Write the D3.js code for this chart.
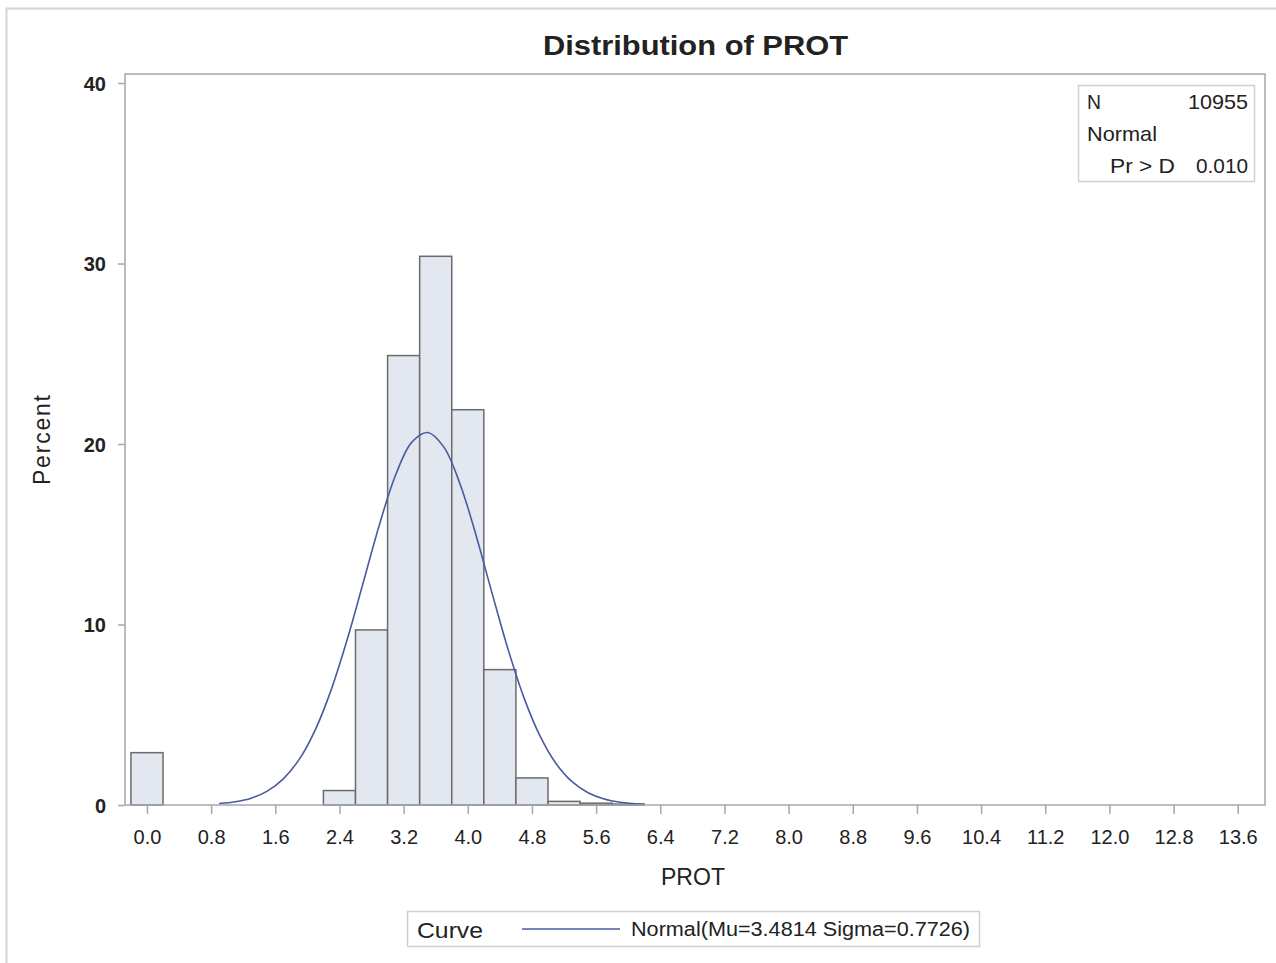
<!DOCTYPE html>
<html>
<head>
<meta charset="utf-8">
<script src="https://cdn.jsdelivr.net/npm/d3@7"></script>
<style>
  body { margin: 0; background: #fff; }
  svg { display: block; font-family: "Liberation Sans", Arial, sans-serif; }
</style>
</head>
<body>
<svg id="chart" width="1276" height="963"></svg>
<script>
// ---- data ----
const binMids = [0.0, 2.4, 2.8, 3.2, 3.6, 4.0, 4.4, 4.8, 5.2, 5.6, 6.0];
const binPercents = [2.9, 0.8, 9.7, 24.9, 30.4, 21.9, 7.5, 1.5, 0.2, 0.1, 0.05];
const binWidth = 0.4;
const curveX = [0.9, 1.1, 1.3, 1.5, 1.7, 1.9, 2.1, 2.3, 2.5, 2.7, 2.9, 3.1, 3.3, 3.5, 3.7, 3.9, 4.1, 4.3, 4.5, 4.7, 4.9, 5.1, 5.3, 5.5, 5.7, 5.9, 6.1, 6.2];
const curveY = [0.08, 0.18, 0.38, 0.77, 1.45, 2.54, 4.18, 6.42, 9.22, 12.38, 15.56, 18.28, 20.09, 20.64, 19.84, 17.83, 14.99, 11.78, 8.66, 5.95, 3.83, 2.30, 1.29, 0.68, 0.33, 0.15, 0.07, 0.04];
const xTicks = [0.0, 0.8, 1.6, 2.4, 3.2, 4.0, 4.8, 5.6, 6.4, 7.2, 8.0, 8.8, 9.6, 10.4, 11.2, 12.0, 12.8, 13.6];
const yTicks = [0, 10, 20, 30, 40];
const titleText = "Distribution of PROT";
const xLabel = "PROT";
const yLabel = "Percent";
const insetRows = [["N", "10955"], ["Normal", ""], ["Pr > D", "0.010"]];
const legendTitle = "Curve";
const legendLabel = "Normal(Mu=3.4814 Sigma=0.7726)";

// ---- layout ----
const svg = d3.select("#chart");
const L = 125, R = 1265, T = 74, B = 805;
const x = d3.scaleLinear().domain([-0.274, 13.94]).range([L, R]);
const y = d3.scaleLinear().domain([0, 40.5]).range([B, T]);
const textCol = "#222";
const frameCol = "#a4a8ac";

// outer frame (top + left edges visible)
svg.append("line").attr("x1", 6).attr("x2", 1276).attr("y1", 8.5).attr("y2", 8.5).attr("stroke", "#d4d4d4").attr("stroke-width", 2);
svg.append("line").attr("x1", 6.5).attr("x2", 6.5).attr("y1", 8).attr("y2", 963).attr("stroke", "#d4d4d4").attr("stroke-width", 2);

// title
svg.append("text").attr("x", 543).attr("y", 55)
  .attr("font-size", 27).attr("font-weight", "bold").attr("fill", textCol)
  .attr("textLength", 305).attr("lengthAdjust", "spacingAndGlyphs").text(titleText);

// bars
svg.append("g").selectAll("rect").data(binMids).join("rect")
  .attr("x", d => x(d - binWidth / 2))
  .attr("width", d => x(d + binWidth / 2) - x(d - binWidth / 2))
  .attr("y", (d, i) => y(binPercents[i]))
  .attr("height", (d, i) => y(0) - y(binPercents[i]))
  .attr("fill", "#e2e7f0").attr("stroke", "#6b6b6b").attr("stroke-width", 1.5);

// curve
const pts = curveX.map((v, i) => [v, curveY[i]]);
svg.append("path").datum(pts)
  .attr("d", d3.line().x(d => x(d[0])).y(d => y(d[1])).curve(d3.curveCatmullRom))
  .attr("fill", "none").attr("stroke", "#4a5a9e").attr("stroke-width", 1.6);

// plot frame
svg.append("rect").attr("x", L).attr("y", T).attr("width", R - L).attr("height", B - T)
  .attr("fill", "none").attr("stroke", frameCol).attr("stroke-width", 1.5);

// axes
const xAxis = d3.axisBottom(x).tickValues(xTicks).tickFormat(d3.format(".1f")).tickSize(9).tickPadding(16);
const gx = svg.append("g").attr("transform", `translate(0,${B})`).call(xAxis);
gx.select(".domain").remove();
gx.selectAll(".tick line").attr("stroke", frameCol).attr("stroke-width", 1.5);
gx.selectAll(".tick text").attr("font-size", 20).attr("fill", textCol);

const yAxis = d3.axisLeft(y).tickValues(yTicks).tickSize(7).tickPadding(12);
const gy = svg.append("g").attr("transform", `translate(${L},0)`).call(yAxis);
gy.select(".domain").remove();
gy.selectAll(".tick line").attr("stroke", frameCol).attr("stroke-width", 1.5);
gy.selectAll(".tick text").attr("font-size", 20).attr("fill", textCol).attr("font-weight", "bold").attr("dy", "0.36em");

// axis labels
svg.append("text").attr("x", 661).attr("y", 885)
  .attr("font-size", 23).attr("fill", textCol).attr("textLength", 64).attr("lengthAdjust", "spacing").text(xLabel);
svg.append("text").attr("transform", "translate(50,485) rotate(-90)")
  .attr("font-size", 23).attr("fill", textCol).attr("textLength", 90).attr("lengthAdjust", "spacing").text(yLabel);

// inset box
const ib = svg.append("g");
ib.append("rect").attr("x", 1078.5).attr("y", 85.5).attr("width", 176).attr("height", 96)
  .attr("fill", "#fff").attr("stroke", "#cfcfcf").attr("stroke-width", 1.5);
const insetLeftX = [1087, 1087, 1110];
const insetLeftW = [14, 70, 65];
const insetRightW = [60, 0, 52];
insetRows.forEach((r, i) => {
  const yy = 109 + i * 32;
  ib.append("text").attr("x", insetLeftX[i]).attr("y", yy).attr("font-size", 21).attr("fill", textCol)
    .attr("textLength", insetLeftW[i]).attr("lengthAdjust", "spacingAndGlyphs").text(r[0]);
  if (r[1]) ib.append("text").attr("x", 1248 - insetRightW[i]).attr("y", yy).attr("font-size", 21).attr("fill", textCol)
    .attr("textLength", insetRightW[i]).attr("lengthAdjust", "spacingAndGlyphs").text(r[1]);
});

// legend
const lg = svg.append("g");
lg.append("rect").attr("x", 407.5).attr("y", 911.5).attr("width", 572).attr("height", 35)
  .attr("fill", "#fff").attr("stroke", "#cfcfcf").attr("stroke-width", 1.5);
lg.append("text").attr("x", 417).attr("y", 938).attr("font-size", 22).attr("fill", textCol)
  .attr("textLength", 66).attr("lengthAdjust", "spacingAndGlyphs").text(legendTitle);
lg.append("line").attr("x1", 522).attr("x2", 620).attr("y1", 929).attr("y2", 929).attr("stroke", "#4a5a9e").attr("stroke-width", 1.6);
lg.append("text").attr("x", 631).attr("y", 936).attr("font-size", 20).attr("fill", textCol)
  .attr("textLength", 339).attr("lengthAdjust", "spacingAndGlyphs").text(legendLabel);
</script>
</body>
</html>
